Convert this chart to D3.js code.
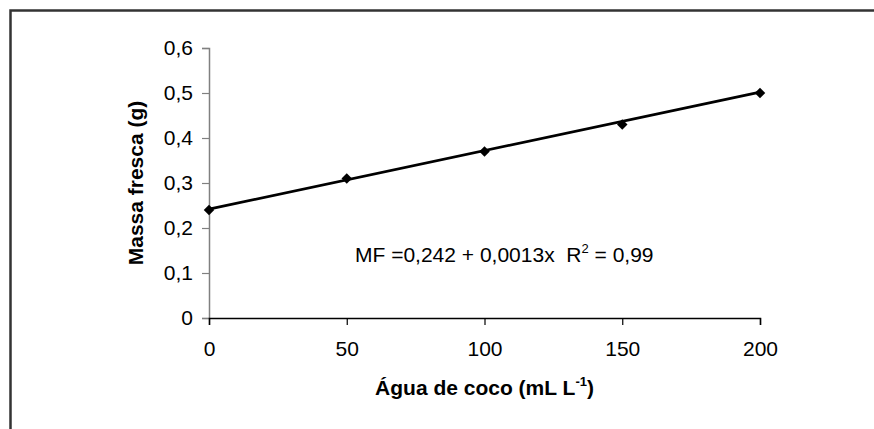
<!DOCTYPE html>
<html>
<head>
<meta charset="utf-8">
<script src="https://cdn.jsdelivr.net/npm/d3@7"></script>
<style>
  body { margin: 0; background: #fff; }
  svg { display: block; }
  text { font-family: "Liberation Sans", Arial, sans-serif; fill: #000; }
</style>
</head>
<body>
<svg id="chart"></svg>
<script>
// dados
var agua = [0, 50, 100, 150, 200]
var massa = [0.24, 0.31, 0.37, 0.43, 0.50]
var xTicks = [0, 50, 100, 150, 200]
var yTicks = [0, 0.1, 0.2, 0.3, 0.4, 0.5, 0.6]
var intercepto = 0.242
var inclinacao = 0.0013

var dimensions = {
  width: 874,
  height: 429,
  margin: { top: 48, bottom: 111, right: 114, left: 209 }
}

var svg = d3.select("#chart")
  .attr("width", dimensions.width)
  .attr("height", dimensions.height)

// moldura externa (so esquerda e topo aparecem)
svg.append("path")
  .attr("d", "M10.5," + dimensions.height + " L10.5,10.5 L" + dimensions.width + ",10.5")
  .attr("fill", "none")
  .attr("stroke", "#333")
  .attr("stroke-width", 2.5)

var x = d3.scaleLinear()
  .domain([0, 200])
  .range([dimensions.margin.left, dimensions.width - dimensions.margin.right])

var y = d3.scaleLinear()
  .domain([0, 0.6])
  .range([dimensions.height - dimensions.margin.bottom, dimensions.margin.top])

var fmt = function(d) { return d3.format(".1f")(d).replace(".", ",") }

var yAxis = svg.append("g")
  .attr("transform", "translate(" + x(0) + ",0)")
  .call(d3.axisLeft(y).tickValues(yTicks).tickSizeOuter(0).tickSize(7).tickPadding(9)
    .tickFormat(function(d) { return d === 0 ? "0" : fmt(d) }))
yAxis.select(".domain").attr("stroke", "#808080").attr("stroke-width", 1.5)
yAxis.selectAll(".tick line").attr("stroke", "#808080").attr("stroke-width", 1.2)
yAxis.selectAll(".tick text").style("font-size", "21px")

var xAxis = svg.append("g")
  .attr("transform", "translate(0," + y(0) + ")")
  .call(d3.axisBottom(x).tickValues(xTicks).tickSizeOuter(0).tickSize(7).tickPadding(16))
xAxis.select(".domain").attr("stroke", "#000").attr("stroke-width", 1.5)
xAxis.selectAll(".tick line").attr("stroke", "#000").attr("stroke-width", 1.2)
xAxis.selectAll(".tick text").style("font-size", "21px")

// linha de tendencia
var tendencia = d3.line()
  .x(function(d) { return x(d) })
  .y(function(d) { return y(intercepto + inclinacao * d) })
svg.append("path")
  .datum([0, 200])
  .attr("d", tendencia)
  .attr("fill", "none")
  .attr("stroke", "#000")
  .attr("stroke-width", 2.7)

// pontos
svg.selectAll(".ponto")
  .data(agua)
  .enter().append("path")
  .attr("class", "ponto")
  .attr("d", d3.symbol().type(d3.symbolDiamond2).size(70))
  .attr("transform", function(d, i) { return "translate(" + x(d) + "," + y(massa[i]) + ")" })
  .attr("fill", "#000")

// equacao
var eq = svg.append("text")
  .attr("x", 355)
  .attr("y", 262)
  .style("font-size", "21px")
eq.append("tspan").text("MF =0,242 + 0,0013x\u00a0 R")
eq.append("tspan").attr("dy", -9).style("font-size", "13px").text("2")
eq.append("tspan").attr("dy", 9).text(" = 0,99")

// titulos dos eixos
var xt = svg.append("text")
  .attr("x", (x(0) + x(200)) / 2)
  .attr("y", 395)
  .attr("text-anchor", "middle")
  .style("font-size", "21px")
  .style("font-weight", "bold")
xt.append("tspan").text("Água de coco (mL L")
xt.append("tspan").attr("dy", -9).style("font-size", "13px").text("-1")
xt.append("tspan").attr("dy", 9).text(")")

svg.append("text")
  .attr("transform", "translate(143," + (y(0) + y(0.6)) / 2 + ") rotate(-90)")
  .attr("text-anchor", "middle")
  .style("font-size", "21px")
  .style("font-weight", "bold")
  .text("Massa fresca (g)")
</script>
</body>
</html>
